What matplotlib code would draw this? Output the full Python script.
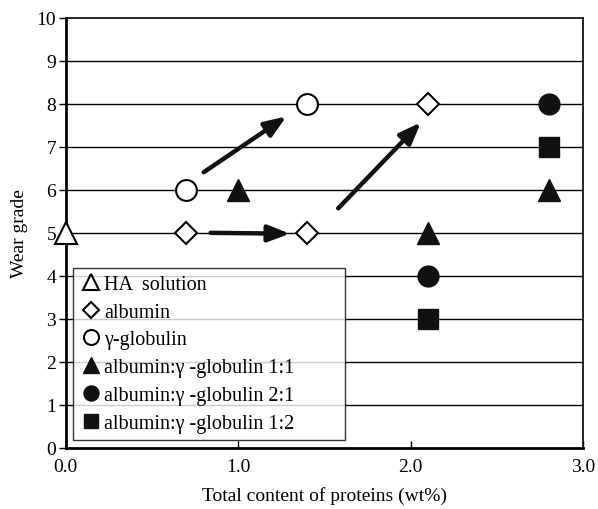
import numpy as np
import matplotlib.pyplot as plt

plt.rcParams['font.family'] = ['Liberation Serif', 'DejaVu Serif']

# data
ha_x = [0.0]
ha_y = [5]
alb_x = [0.7, 1.4, 2.1]
alb_y = [5, 5, 8]
glob_x = [0.7, 1.4]
glob_y = [6, 8]
mix11_x = [1.0, 2.1, 2.8]
mix11_y = [6, 5, 6]
mix21_x = [2.1, 2.8]
mix21_y = [4, 8]
mix12_x = [2.1, 2.8]
mix12_y = [3, 7]

# arrows (start, end)
arrows = [((0.80, 6.41), (1.28, 7.71)),
          ((0.84, 5.00), (1.30, 4.98)),
          ((1.58, 5.57), (2.06, 7.57))]

fig = plt.figure(figsize=(5.98, 5.10), dpi=100)
ax = fig.add_axes([0.110, 0.120, 0.865, 0.843])

for yy in range(1, 10):
    ax.axhline(yy, color='black', lw=1.0, zorder=1)

ax.plot(ha_x, ha_y, '^', ms=16, mfc='white', mec='black', mew=1.5, clip_on=False, zorder=5, label='HA  solution')
ax.plot(alb_x, alb_y, 'D', ms=11, mfc='white', mec='black', mew=1.5, zorder=5, label='albumin')
ax.plot(glob_x, glob_y, 'o', ms=15, mfc='white', mec='black', mew=1.5, zorder=5, label='γ-globulin')
ax.plot(mix11_x, mix11_y, '^', ms=16, color='#111111', zorder=5, label='albumin:γ -globulin 1:1')
ax.plot(mix21_x, mix21_y, 'o', ms=15, color='#111111', zorder=5, label='albumin:γ -globulin 2:1')
ax.plot(mix12_x, mix12_y, 's', ms=14, color='#111111', zorder=5, label='albumin:γ -globulin 1:2')

for (x0, y0), (x1, y1) in arrows:
    ax.annotate('', xy=(x1, y1), xytext=(x0, y0),
                arrowprops=dict(arrowstyle='-|>,head_length=1.3,head_width=0.5',
                                color='#111111', lw=3.2, shrinkA=0, shrinkB=0),
                zorder=4)

ax.set_xlim(0, 3.0)
ax.set_ylim(0, 10)
ax.set_xticks([0, 1, 2, 3])
ax.set_xticklabels(['0.0', '1.0', '2.0', '3.0'])
ax.set_yticks(range(0, 11))
ax.tick_params(axis='x', direction='in', length=5, width=1, labelsize=14, pad=7)
ax.tick_params(axis='y', direction='out', length=5, width=1, labelsize=14, pad=2)
for s in ['left', 'bottom']:
    ax.spines[s].set_linewidth(2)
for s in ['top', 'right']:
    ax.spines[s].set_linewidth(1.2)

ax.set_xlabel('Total content of proteins (wt%)', fontsize=14, labelpad=8)
ax.set_ylabel('Wear grade', fontsize=14, labelpad=6)

leg = ax.legend(loc='lower left', bbox_to_anchor=(0.014, 0.019, 0.526, 0.41), mode='expand',
                markerscale=0.72, fontsize=14.5, frameon=True, fancybox=False,
                edgecolor='black', handletextpad=0.1, handlelength=1.1,
                labelspacing=0.43, borderpad=0.35, borderaxespad=0)
leg.get_frame().set_linewidth(1.0)
leg.set_zorder(6)

fig.savefig('out.png', dpi=100)
